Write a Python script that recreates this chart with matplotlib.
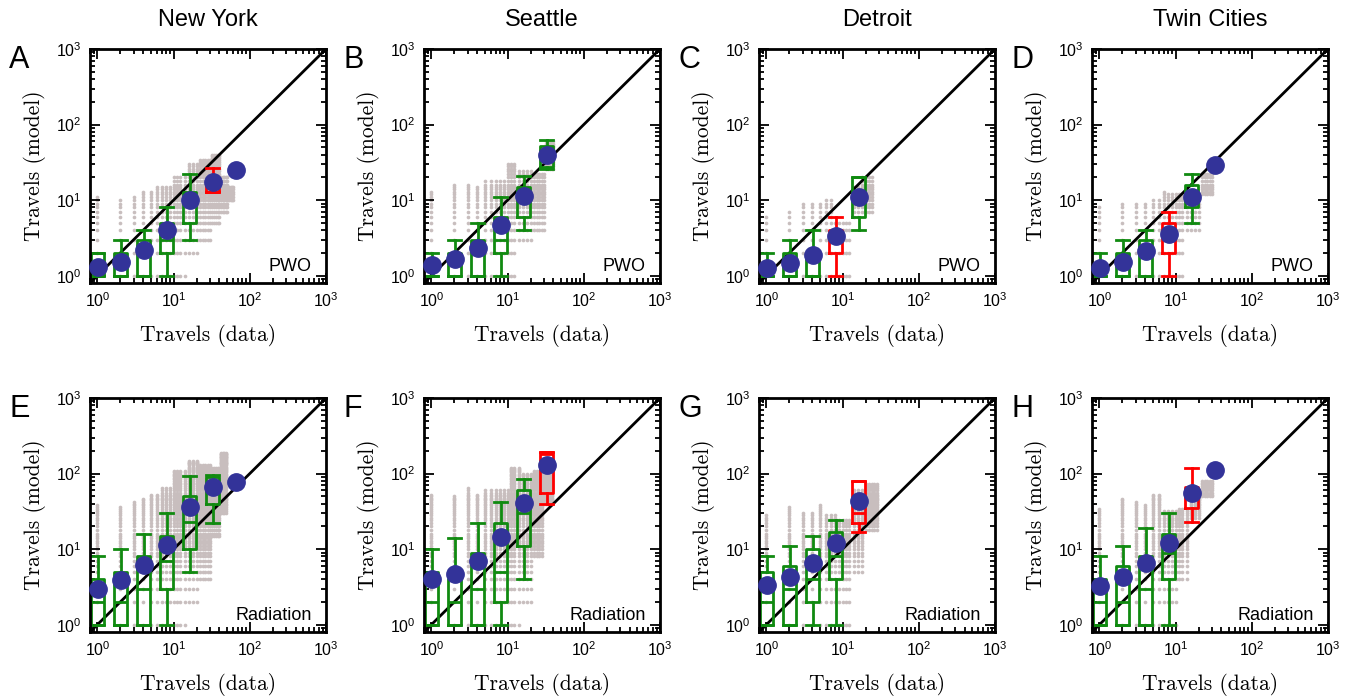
import numpy as np
import matplotlib
matplotlib.use("Agg")
import matplotlib.pyplot as plt
from matplotlib.ticker import LogLocator, NullFormatter

plt.rcParams['font.family'] = ['Liberation Sans', 'DejaVu Sans']

cities = ["New York", "Seattle", "Detroit", "Twin Cities"]
letters = ["A", "B", "C", "D", "E", "F", "G", "H"]
models = ["PWO", "PWO", "PWO", "PWO", "Radiation", "Radiation", "Radiation", "Radiation"]

# bin positions (travels in data, log2 bins)
bin_x = [1.03, 2.06, 4.12, 8.2, 16.4, 32.8, 65.6]

# mean model travels per bin (blue dots)
mean_A = [1.3, 1.5, 2.2, 4.0, 10.0, 17.5, 25.0]
mean_B = [1.4, 1.65, 2.35, 4.7, 11.5, 40.0]
mean_C = [1.25, 1.45, 1.85, 3.3, 11.0]
mean_D = [1.25, 1.5, 2.1, 3.6, 11.0, 29.0]
mean_E = [3.0, 3.9, 6.1, 11.4, 36.0, 66.0, 78.0]
mean_F = [4.0, 4.7, 7.0, 14.6, 41.0, 130.0]
mean_G = [3.3, 4.3, 6.5, 11.9, 43.0]
mean_H = [3.25, 4.3, 6.5, 12.2, 55.0, 110.0]

# box stats per bin: whisker low, q1, median, q3, whisker high
box_A = [[1, 1, 1, 2, 2], [1, 1, 1, 2, 3], [1, 1, 2, 3, 4], [1, 2, 3, 5, 8],
         [3, 5, 9, 13, 22], [13, 13, 17, 18, 27]]
box_B = [[1, 1, 1, 1, 2], [1, 1, 1, 2, 3], [1, 1, 2, 3, 5], [1, 2, 3, 6, 11],
         [4, 6, 10, 15, 21], [26, 27.5, 40, 52, 63]]
box_C = [[1, 1, 1, 1, 2], [1, 1, 1, 2, 3], [1, 1, 1, 2, 4], [1, 2, 3, 4, 6],
         [4, 6, 10, 20, 20]]
box_D = [[1, 1, 1, 1, 2], [1, 1, 1, 2, 3], [1, 1, 2, 3, 4], [1, 2, 3, 5, 7],
         [5, 8, 11, 16, 22]]
box_E = [[1, 1, 2, 4, 8], [1, 1, 2, 5, 10], [1, 1, 3, 8, 16], [1, 3, 7, 15, 30],
         [5, 10, 23, 50, 93], [22, 40, 60, 89, 96]]
box_F = [[1, 1, 2, 5, 10], [1, 1, 2, 4, 14], [1, 1, 3, 9, 22], [1, 2, 5, 22, 42],
         [4, 11, 30, 61, 85], [40, 55, 180, 190, 190]]
box_G = [[1, 1, 2, 5, 8], [1, 1, 3, 6, 11], [1, 2, 4, 10, 15], [1, 4, 8, 17, 24],
         [17, 22, 30, 80, 80]]
box_H = [[1, 1, 2, 4, 8], [1, 1, 2, 6, 11], [1, 1, 3, 8, 19], [1, 4, 9, 16, 30],
         [23, 35, 48, 66, 117]]

# which boxes are drawn red
red_A = [5]
red_B = []
red_C = [3]
red_D = [3]
red_E = []
red_F = [5]
red_G = [4]
red_H = [4]

# gray point clouds: integer travels, rows of (x_from, x_to, y_lo, y_hi)
cloud_A = [(1, 1, 1, 11), (2, 2, 1, 10), (3, 3, 1, 11), (4, 5, 1, 13), (6, 9, 1, 15),
           (10, 14, 1, 20), (15, 20, 2, 30), (21, 30, 3, 35), (31, 40, 5, 40),
           (41, 50, 7, 20), (51, 60, 10, 15)]
cloud_B = [(1, 1, 1, 13), (2, 3, 1, 16), (4, 4, 1, 15), (5, 9, 1, 18), (10, 13, 1, 30),
           (14, 20, 3, 25), (21, 30, 4, 22), (31, 40, 25, 60)]
cloud_C = [(1, 1, 1, 6), (2, 2, 1, 7), (3, 5, 1, 9), (6, 7, 1, 10), (8, 12, 1, 5),
           (13, 16, 6, 15), (17, 25, 7, 20)]
cloud_D = [(1, 1, 1, 8), (2, 4, 1, 9), (5, 6, 1, 10), (7, 7, 1, 13), (8, 12, 1, 12),
           (13, 20, 4, 12), (21, 30, 12, 22)]
cloud_E = [(1, 1, 1, 38), (2, 2, 1, 36), (3, 3, 1, 42), (4, 4, 1, 47), (5, 6, 1, 52),
           (7, 9, 1, 67), (10, 14, 1, 110), (15, 20, 2, 150), (21, 30, 4, 130),
           (31, 40, 15, 120), (41, 48, 30, 190)]
cloud_F = [(1, 1, 1, 55), (2, 2, 1, 50), (3, 3, 1, 67), (4, 4, 1, 55), (5, 10, 1, 60),
           (11, 14, 1, 120), (15, 20, 2, 100), (21, 28, 8, 110), (29, 38, 40, 140)]
cloud_G = [(1, 1, 1, 28), (2, 2, 1, 36), (3, 4, 1, 30), (5, 5, 1, 38), (6, 8, 1, 29),
           (9, 12, 1, 24), (13, 18, 5, 60), (19, 28, 17, 75)]
cloud_H = [(1, 1, 1, 34), (2, 2, 1, 46), (3, 3, 1, 42), (4, 4, 1, 38), (5, 6, 1, 54),
           (7, 10, 1, 32), (11, 14, 4, 35), (15, 20, 25, 60), (21, 30, 50, 80)]

means = [mean_A, mean_B, mean_C, mean_D, mean_E, mean_F, mean_G, mean_H]
boxes = [box_A, box_B, box_C, box_D, box_E, box_F, box_G, box_H]
reds = [red_A, red_B, red_C, red_D, red_E, red_F, red_G, red_H]
clouds = [cloud_A, cloud_B, cloud_C, cloud_D, cloud_E, cloud_F, cloud_G, cloud_H]

lims = [0.8, 1000]
gray = '#c8bebe'
blue = '#333399'
green = '#108a10'
lw = 2.0

fig = plt.figure(figsize=(13.64, 7.0), dpi=100)
W, H = 1364, 700
lefts = [90, 424, 759, 1092]
tops = [49, 398]
aw, ah = 236, 234

for k in range(8):
    r, c = divmod(k, 4)
    ax = fig.add_axes([lefts[c] / W, 1 - (tops[r] + ah) / H, aw / W, ah / H])
    ax.set_xscale('log')
    ax.set_yscale('log')

    # gray cloud (thinned where integer points crowd together)
    px, py = [], []
    for x0, x1, y0, y1 in clouds[k]:
        for xv in range(x0, x1 + 1):
            if xv > 12 and xv % 2:
                continue
            for yv in range(y0, y1 + 1):
                if yv > 15 and yv % 2:
                    continue
                if yv > 50 and yv % 4:
                    continue
                px.append(xv)
                py.append(yv)
    ax.scatter(px, py, s=7, color=gray, lw=0, zorder=1)

    # diagonal
    ax.plot(lims, lims, color='black', lw=lw, zorder=2)

    # boxes
    stats = []
    for b in boxes[k]:
        stats.append(dict(whislo=b[0], q1=b[1], med=b[2], q3=b[3], whishi=b[4]))
    n = len(stats)
    pos = bin_x[:n]
    for i in range(n):
        col = 'red' if i in reds[k] else green
        wid = pos[i] * 0.39
        ax.bxp([stats[i]], positions=[pos[i]], widths=[wid], capwidths=[wid],
               showfliers=False, manage_ticks=False,
               boxprops=dict(color=col, lw=lw),
               medianprops=dict(color=col, lw=lw),
               whiskerprops=dict(color=col, lw=lw),
               capprops=dict(color=col, lw=lw))

    # means
    m = means[k]
    ax.plot(bin_x[:len(m)], m, 'o', ms=12.5, color=blue, mec=blue, zorder=5, clip_on=False)

    ax.set_xlim(lims)
    ax.set_ylim(lims)
    for a in (ax.xaxis, ax.yaxis):
        a.set_major_locator(LogLocator(base=10, numticks=10))
        a.set_minor_locator(LogLocator(base=10, subs=np.arange(2, 10), numticks=10))
        a.set_minor_formatter(NullFormatter())
    ax.tick_params(which='both', direction='in', top=True, right=True, width=1.3)
    ax.tick_params(which='major', length=7.5, labelsize=11.5, pad=6)
    ax.tick_params(which='minor', length=3.5)
    for s in ax.spines.values():
        s.set_linewidth(2.0)

    ax.set_xlabel('Travels (data)', fontfamily='cmr10', fontsize=15.5, labelpad=10)
    ax.set_ylabel('Travels (model)', fontfamily='cmr10', fontsize=15.5, labelpad=7)

    ax.text(0.94, 0.05, models[k], transform=ax.transAxes, ha='right', va='baseline',
            fontsize=13)

    fig.text((lefts[c] - 81) / W, 1 - (tops[r] + 19) / H, letters[k],
             fontsize=22, ha='left', va='baseline')

for c in range(4):
    fig.text((lefts[c] + aw / 2) / W, 1 - 26 / H, cities[c], fontsize=17,
             ha='center', va='baseline')

fig.savefig('out.png', dpi=100)
